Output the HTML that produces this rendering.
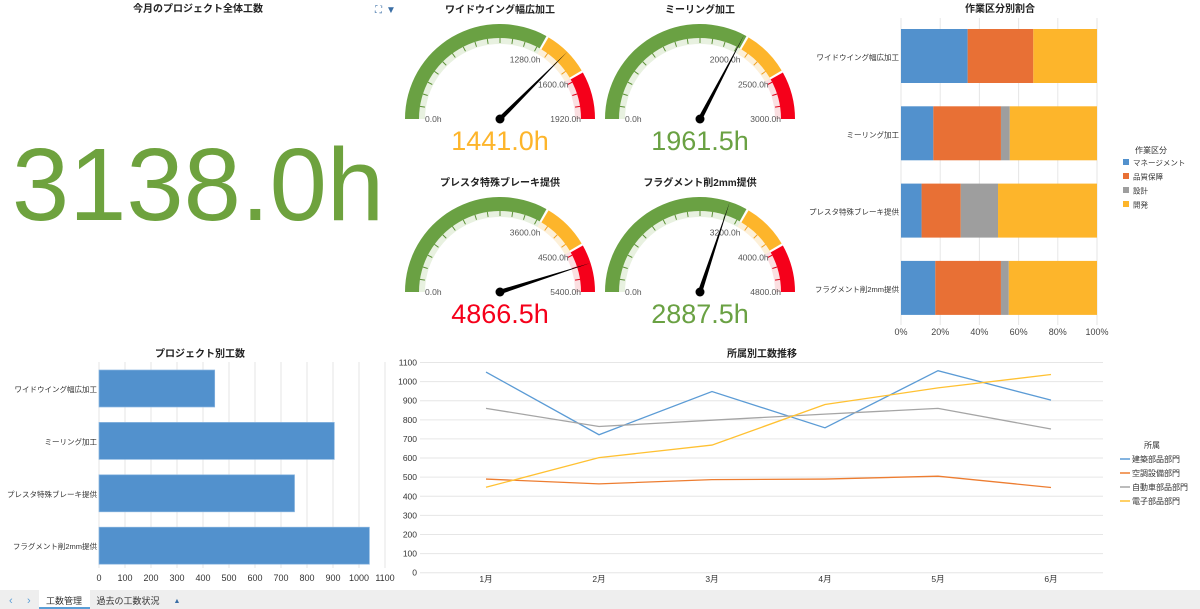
<!DOCTYPE html>
<html><head><meta charset="utf-8">
<style>
body{margin:0;width:1200px;height:609px;background:#fff;font-family:"Liberation Sans","Noto Sans CJK JP",sans-serif;overflow:hidden;position:relative}
svg{position:absolute;left:0;top:0}
</style></head><body>
<svg id="s" width="1200" height="609" viewBox="0 0 1200 609">
<g font-family="Liberation Sans, Noto Sans CJK JP, sans-serif">
<text x="198" y="12" font-size="10" font-weight="bold" text-anchor="middle" fill="#222">今月のプロジェクト全体工数</text>
<text x="375" y="13" font-size="10" fill="#3a6ea5">⛶</text>
<text x="386" y="13" font-size="10" fill="#3a6ea5">▼</text>
<text x="198" y="220" font-size="103" text-anchor="middle" fill="#6ea23e">3138.0h</text>
</g>
<g id="gauges"></g>
<g id="stack"></g>
<g id="hbar"></g>
<g id="line"></g>
<rect x="0" y="590" width="1200" height="19" fill="#eeeeee"/>
<text x="9" y="604" font-size="11" fill="#5a9ed6">‹</text>
<text x="27" y="604" font-size="11" fill="#5a9ed6">›</text>
<rect x="39" y="590" width="51" height="19" fill="#fff"/>
<rect x="39" y="607" width="51" height="2" fill="#5a9ed6"/>
<text x="64" y="604" font-size="9" text-anchor="middle" fill="#333">工数管理</text>
<text x="128" y="604" font-size="9" text-anchor="middle" fill="#333">過去の工数状況</text>
<text x="177" y="603" font-size="7" text-anchor="middle" fill="#3a6ea5">▲</text>
</svg>
<script>
const NS="http://www.w3.org/2000/svg";
function el(p,t,a,txt){const e=document.createElementNS(NS,t);for(const k in a)e.setAttribute(k,a[k]);if(txt!==undefined)e.textContent=txt;p.appendChild(e);return e;}
const FONT="Liberation Sans, Noto Sans CJK JP, sans-serif";

// ---------- Gauges ----------
const gaugeTitles=["ワイドウイング幅広加工","ミーリング加工","プレスタ特殊ブレーキ提供","フラグメント削2mm提供"];
const gaugeValues=[1441.0,1961.5,4866.5,2887.5];
const gaugeMax=[1920,3000,5400,4800];
const gaugeWarn=[1280,2000,3600,3200];
const gaugeDanger=[1600,2500,4500,4000];
const gaugeCenters=[[500,119],[700,119],[500,292],[700,292]];
const GREEN="#6aa143",YEL="#fdb52b",RED="#f5001a";
const gg=document.getElementById('gauges');
function pt(cx,cy,r,f){const a=Math.PI*(1-f);return [cx+r*Math.cos(a),cy-r*Math.sin(a)];}
function arc(g,cx,cy,r1,r2,f1,f2,fill){
  const a=pt(cx,cy,r2,f1),b=pt(cx,cy,r2,f2),c=pt(cx,cy,r1,f2),d=pt(cx,cy,r1,f1);
  return el(g,'path',{d:`M${a[0]},${a[1]} A${r2},${r2} 0 0 1 ${b[0]},${b[1]} L${c[0]},${c[1]} A${r1},${r1} 0 0 0 ${d[0]},${d[1]} Z`,fill:fill});
}
gaugeTitles.forEach((t,i)=>{
  const [cx,cy]=gaugeCenters[i];const mx=gaugeMax[i];
  const g=el(gg,'g',{});
  
  
  const tt=el(g,'text',{x:cx,y:cy-106,'font-size':10,'font-weight':'bold','text-anchor':'middle',fill:'#222','font-family':FONT},t);
  
  
  const fw=gaugeWarn[i]/mx,fd=gaugeDanger[i]/mx,R=95,W=14;
  arc(g,cx,cy,R-W-6,R-W,0,fw,'#e8f1e0');
  arc(g,cx,cy,R-W-6,R-W,fw,fd,'#fdf0d8');
  arc(g,cx,cy,R-W-6,R-W,fd,1,'#fbdfe1');
  const a1=arc(g,cx,cy,R-W,R,0,fw-0.004,GREEN);
  
  
  const a2=arc(g,cx,cy,R-W,R,fw+0.004,fd-0.004,YEL);
  
  
  const a3=arc(g,cx,cy,R-W,R,fd+0.004,1,RED);
  
  
  for(let k=1;k<20;k++){const f=k/20;const c=f<fw?'#5c9136':(f<fd?'#f0a020':'#e00018');
    const p1=pt(cx,cy,R-W,f),p2=pt(cx,cy,R-W-5,f);el(g,'line',{x1:p1[0],y1:p1[1],x2:p2[0],y2:p2[1],stroke:c,'stroke-width':1});}
  const lab=(v,f,dx,dy,anc)=>{const p=pt(cx,cy,R-W-4,f);const e=el(g,'text',{x:p[0]+dx,y:p[1]+dy,'font-size':8.5,fill:'#555','text-anchor':anc,'font-family':FONT},v.toFixed(1)+'h');
    };
  lab(0,0,2,3,'start');
  lab(gaugeWarn[i],fw,2,10,'end');
  lab(gaugeDanger[i],fd,2,7,'end');
  lab(mx,1,4,3,'end');
  const v=gaugeValues[i];const fv=Math.min(v/mx,1);
  const tip=pt(cx,cy,R,fv),a=Math.PI*(1-fv);
  const nx=-Math.sin(a)*2.2,ny=-Math.cos(a)*2.2;
  const nd=el(g,'path',{d:`M${cx+nx},${cy+ny} L${tip[0]},${tip[1]} L${cx-nx},${cy-ny} Z`,fill:'#000'});
  
  
  el(g,'circle',{cx:cx,cy:cy,r:4.5,fill:'#000'});
  const col=v>=gaugeDanger[i]?RED:(v>=gaugeWarn[i]?YEL:GREEN);
  const vt=el(g,'text',{x:cx,y:cy+31,'font-size':27,'text-anchor':'middle',fill:col,'font-family':FONT},v.toFixed(1)+'h');
  
  
});

// ---------- Stacked 100% bar ----------
const stackCats=["ワイドウイング幅広加工","ミーリング加工","プレスタ特殊ブレーキ提供","フラグメント削2mm提供"];
const stackSeries=["マネージメント","品質保障","設計","開発"];
const stackMgmt=[34,16.5,10.5,17.5];
const stackQA=[33.5,34.5,20,33.5];
const stackDesign=[0,4.5,19,4];
const stackDev=[32.5,44.5,50.5,45];
const stackColors=["#5291cd","#e87035","#9e9e9e","#fdb52b"];
const sg=document.getElementById('stack');
const sx=v=>901+v*1.96;
el(sg,'text',{x:1000,y:12,'font-size':10,'font-weight':'bold','text-anchor':'middle',fill:'#222','font-family':FONT},'作業区分別割合');
for(let k=0;k<=5;k++){const x=sx(k*20);el(sg,'line',{x1:x,y1:18,x2:x,y2:325,stroke:'#e6e6e6'});
  const t=el(sg,'text',{x:x,y:335,'font-size':9,'text-anchor':'middle',fill:'#444','font-family':FONT},(k*20)+'%');
  }
const stackData=[stackMgmt,stackQA,stackDesign,stackDev];
stackCats.forEach((c,i)=>{
  const y=29+i*77.3;let acc=0;
  stackData.forEach((arr,s)=>{const v=arr[i];
    const r=el(sg,'rect',{x:sx(acc),y:y,width:v*1.96,height:54,fill:stackColors[s]});
    
    
    acc+=v;});
  const t=el(sg,'text',{x:899,y:y+31,'font-size':7.5,'text-anchor':'end',fill:'#333','font-family':FONT},c);
  
});
el(sg,'text',{x:1151,y:153,'font-size':8,'text-anchor':'middle',fill:'#333','font-family':FONT},'作業区分');
stackSeries.forEach((s,k)=>{const y=163+k*14;
  const r=el(sg,'rect',{x:1123,y:y-4,width:6,height:6,fill:stackColors[k]});
  
  el(sg,'text',{x:1133,y:y+2.5,'font-size':7.5,fill:'#333','font-family':FONT},s);});

// ---------- Horizontal bar ----------
const hbarCats=["ワイドウイング幅広加工","ミーリング加工","プレスタ特殊ブレーキ提供","フラグメント削2mm提供"];
const hbarValues=[445,905,752,1040];
const hbarTicks=[0,100,200,300,400,500,600,700,800,900,1000,1100];
const hg=document.getElementById('hbar');
const hx=v=>99+v*0.26;
el(hg,'text',{x:200,y:357,'font-size':10,'font-weight':'bold','text-anchor':'middle',fill:'#222','font-family':FONT},'プロジェクト別工数');
hbarTicks.forEach(v=>{const x=hx(v);el(hg,'line',{x1:x,y1:362,x2:x,y2:568,stroke:'#e6e6e6'});
  const t=el(hg,'text',{x:x,y:581,'font-size':9,'text-anchor':'middle',fill:'#333','font-family':FONT},v);
  });
hbarCats.forEach((c,i)=>{const y=370+i*52.4;
  const r=el(hg,'rect',{x:hx(0),y:y,width:hx(hbarValues[i])-hx(0),height:37,fill:'#5291cd',stroke:'#8ab6e0','stroke-width':0.7});
  
  const t=el(hg,'text',{x:97,y:y+22,'font-size':7.5,'text-anchor':'end',fill:'#333','font-family':FONT},c);
  });

// ---------- Line chart ----------
const lineMonths=["1月","2月","3月","4月","5月","6月"];
const lineSeries=["建築部品部門","空調設備部門","自動車部品部門","電子部品部門"];
const lineArch=[1050,722,948,758,1057,903];
const lineAir=[490,465,487,490,505,446];
const lineAuto=[860,765,798,830,860,752];
const lineElec=[447,602,668,880,967,1037];
const lineTicks=[0,100,200,300,400,500,600,700,800,900,1000,1100];
const lineColors=["#5b9bd5","#ed7d31","#a5a5a5","#ffc132"];
const lg=document.getElementById('line');
const lx=i=>486+i*113;
const ly=v=>572.7-v*(210.2/1100);
el(lg,'text',{x:762,y:357,'font-size':10,'font-weight':'bold','text-anchor':'middle',fill:'#222','font-family':FONT},'所属別工数推移');
lineTicks.forEach(v=>{const y=ly(v);el(lg,'line',{x1:420,y1:y,x2:1103,y2:y,stroke:'#e6e6e6'});
  const t=el(lg,'text',{x:417,y:y+3,'font-size':8.5,'text-anchor':'end',fill:'#333','font-family':FONT},v);
  });
lineMonths.forEach((m,i)=>{const t=el(lg,'text',{x:lx(i),y:582,'font-size':8.5,'text-anchor':'middle',fill:'#333','font-family':FONT},m);
  });
[lineArch,lineAir,lineAuto,lineElec].forEach((arr,s)=>{
  const p=el(lg,'polyline',{points:arr.map((v,i)=>lx(i)+','+ly(v)).join(' '),fill:'none',stroke:lineColors[s],'stroke-width':1.3});
  });
el(lg,'text',{x:1152,y:448,'font-size':8,'text-anchor':'middle',fill:'#333','font-family':FONT},'所属');
lineSeries.forEach((s,k)=>{const y=459+k*14;
  const l=el(lg,'line',{x1:1120,y1:y,x2:1130,y2:y,stroke:lineColors[k],'stroke-width':1.5});
  
  el(lg,'text',{x:1132,y:y+3,'font-size':8,fill:'#333','font-family':FONT},s);});
</script>
</body></html>
